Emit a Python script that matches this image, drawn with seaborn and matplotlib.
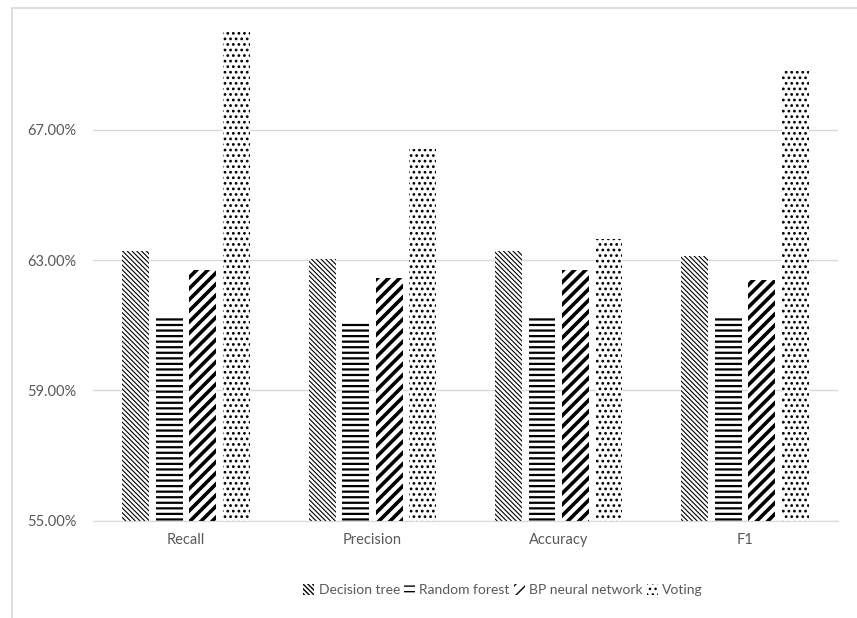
import matplotlib.pyplot as plt
import seaborn as sns
import pandas as pd
from matplotlib.patches import Patch
from matplotlib.lines import Line2D
from matplotlib.ticker import PercentFormatter

# values (percent)
metrics = ["Recall", "Precision", "Accuracy", "F1"]
models = ["Decision tree", "Random forest", "BP neural network", "Voting"]
decision_tree = [63.27, 63.02, 63.27, 63.12]
random_forest = [61.28, 61.09, 61.28, 61.29]
bp_network = [62.71, 62.44, 62.71, 62.40]
voting = [70.02, 66.42, 63.64, 68.80]
y_ticks = [55, 59, 63, 67]

hatches = ["\\" * 7, "---", "///", "..."]
hatch_widths = [0.8, 1.6, 2.6, 1.2]

df = pd.DataFrame({"Metric": metrics * 4,
                   "Model": [m for m in models for _ in metrics],
                   "Value": decision_tree + random_forest + bp_network + voting})

sns.set_style("white")
plt.rcParams["font.family"] = ["Lato", "DejaVu Sans"]
grey = "#595959"

fig = plt.figure(figsize=(8.57, 6.18), dpi=100)
ax = fig.add_axes([0.1085, 0.1575, 0.8695, 0.8065])

sns.barplot(data=df, x="Metric", y="Value", hue="Model", order=metrics,
            hue_order=models, palette=["white"] * 4, width=0.72, gap=0.2,
            legend=False, ax=ax)

for container, h, lw in zip(ax.containers, hatches, hatch_widths):
    for bar in container:
        bar.set_hatch(h)
        bar.set_edgecolor("black")
        bar.set_linewidth(0)
        if hasattr(bar, "set_hatch_linewidth"):
            bar.set_hatch_linewidth(lw)

ax.set_ylim(55, 70.3)
ax.set_yticks(y_ticks)
ax.yaxis.set_major_formatter(PercentFormatter(xmax=100, decimals=2))
ax.grid(axis="y", color="#d9d9d9", linewidth=1)
ax.set_axisbelow(True)
for s in ["top", "right", "left"]:
    ax.spines[s].set_visible(False)
ax.spines["bottom"].set_color("#d9d9d9")
ax.tick_params(axis="both", length=0, colors=grey, labelsize=10.5)
ax.tick_params(axis="y", pad=12)
ax.tick_params(axis="x", pad=9)
ax.set_xlabel("")
ax.set_ylabel("")

handles = []
for h, lw in zip(hatches, hatch_widths):
    p = Patch(facecolor="white", edgecolor="black", hatch=h, linewidth=0)
    if hasattr(p, "set_hatch_linewidth"):
        p.set_hatch_linewidth(lw)
    handles.append(p)
leg = fig.legend(handles, models, loc="center", bbox_to_anchor=(0.587, 0.045),
                 ncol=4, frameon=False, fontsize=10, handlelength=0.8,
                 handleheight=0.8, handletextpad=0.3, columnspacing=0.3)
for t in leg.get_texts():
    t.set_color(grey)

# chart area border (left and top edges visible)
fig.add_artist(Line2D([12 / 857, 12 / 857], [0, 1 - 8 / 618], color="#d9d9d9", linewidth=1.2))
fig.add_artist(Line2D([12 / 857, 1], [1 - 8 / 618, 1 - 8 / 618], color="#d9d9d9", linewidth=1.2))

fig.savefig("out.png", dpi=100)
